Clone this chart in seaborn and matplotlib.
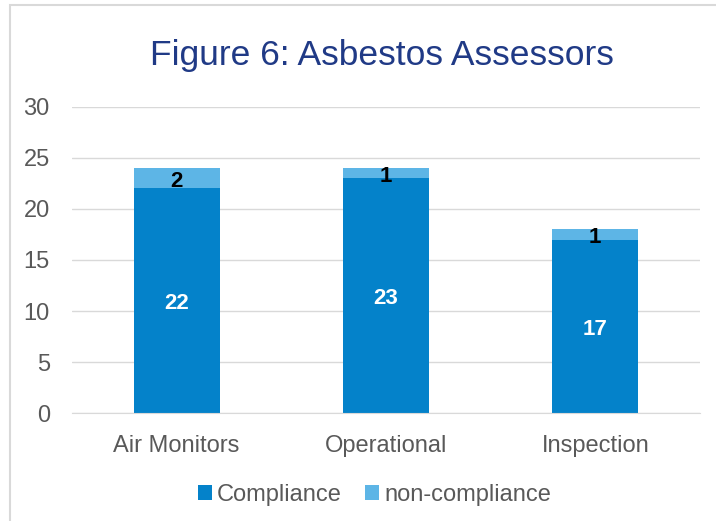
import matplotlib
matplotlib.use('Agg')
import matplotlib.pyplot as plt
import seaborn as sns
import pandas as pd
from matplotlib.patches import Rectangle

categorias = ['Air Monitors', 'Operational', 'Inspection']
compliance = [22, 23, 17]
non_compliance = [2, 1, 1]

cor_escura = '#0482CA'
cor_clara = '#5DB5E6'

sns.set_style('white')
plt.rcParams['font.family'] = ['Liberation Sans', 'DejaVu Sans']

df = pd.DataFrame({'categoria': categorias, 'compliance': compliance,
                   'total': [c + n for c, n in zip(compliance, non_compliance)]})

fig = plt.figure(figsize=(7.16, 5.21), dpi=100)
ax = fig.add_axes([0.1006, 0.207, 0.877, 0.588])

sns.barplot(data=df, x='categoria', y='total', color=cor_clara, width=0.41,
            saturation=1, ax=ax, label='non-compliance', linewidth=0)
sns.barplot(data=df, x='categoria', y='compliance', color=cor_escura, width=0.41,
            saturation=1, ax=ax, label='Compliance', linewidth=0)

for i in range(len(categorias)):
    ax.text(i, compliance[i] / 2 - 0.3, str(compliance[i]), ha='center', va='center',
            color='white', fontsize=16, fontweight='bold')
    ax.text(i, compliance[i] + non_compliance[i] / 2 - 0.3, str(non_compliance[i]),
            ha='center', va='center', color='black', fontsize=16, fontweight='bold')

ax.set_ylim(0, 30)
ax.set_xlim(-0.5, 2.5)
ax.set_yticks(range(0, 31, 5))
ax.yaxis.grid(True, color='#D9D9D9', linewidth=1)
ax.set_axisbelow(True)
for s in ['left', 'right', 'top']:
    ax.spines[s].set_visible(False)
ax.spines['bottom'].set_color('#D9D9D9')
ax.tick_params(axis='both', labelsize=17, colors='#595959', length=0)
ax.tick_params(axis='y', pad=16)
ax.tick_params(axis='x', pad=16)
ax.set_xlabel('')
ax.set_ylabel('')

fig.text(0.534, 0.893, 'Figure 6: Asbestos Assessors', ha='center', va='center',
         fontsize=25.5, color='#203A86')

handles, labels = ax.get_legend_handles_labels()
ordem = [labels.index('Compliance'), labels.index('non-compliance')]
ax.legend([handles[i] for i in ordem], [labels[i] for i in ordem],
          loc='center', bbox_to_anchor=(0.523, 0.05), bbox_transform=fig.transFigure,
          ncol=2, frameon=False, fontsize=17, handlelength=0.6, handleheight=0.6,
          handletextpad=0.2, columnspacing=1.0, labelcolor='#595959')

fig.patches.append(Rectangle((0.014, -0.01), 1.0, 1.0, transform=fig.transFigure,
                             fill=False, edgecolor='#D9D9D9', linewidth=1.5))

fig.savefig('out.png', dpi=100)
